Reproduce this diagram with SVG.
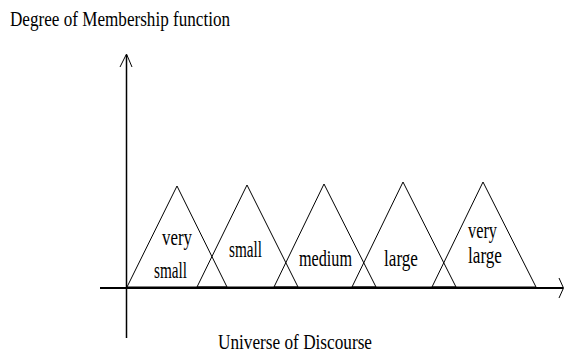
<svg xmlns="http://www.w3.org/2000/svg" width="564" height="355" viewBox="0 0 564 355">
<style>
.t{font-family:"Liberation Serif","DejaVu Serif",serif;fill:#000}
.l{font-size:23px}
.tri{fill:none;stroke:#000;stroke-width:1}
.ax{fill:none;stroke:#000}
</style>
<rect width="564" height="355" fill="#fff"/>
<g id="connectors">
<line class="ax" x1="100" y1="288" x2="563" y2="288" stroke-width="2"/>
<polyline class="ax" points="559,278 563.5,288 559,298" stroke-width="1"/>
<line class="ax" x1="126.5" y1="55" x2="126.5" y2="338" stroke-width="1.5"/>
<polyline class="ax" points="120,67 126.5,54 132,67" stroke-width="1"/>
</g>
<g id="title"><text class="t" x="10" y="26" font-size="21" textLength="220" lengthAdjust="spacingAndGlyphs">Degree of Membership function</text></g>
<g id="xlabel"><text class="t" x="218" y="349" font-size="21" textLength="154" lengthAdjust="spacingAndGlyphs">Universe of Discourse</text></g>
<g id="very-small">
<polygon class="tri" points="127,287 177,186 227,287"/>
<text class="t l" x="162" y="245" textLength="30" lengthAdjust="spacingAndGlyphs">very</text>
<text class="t l" x="154" y="278" textLength="33" lengthAdjust="spacingAndGlyphs">small</text>
</g>
<g id="small">
<polygon class="tri" points="197,287 247,185 298,287"/>
<text class="t l" x="229" y="257" textLength="33" lengthAdjust="spacingAndGlyphs">small</text>
</g>
<g id="medium">
<polygon class="tri" points="274,287 324,184 376,287"/>
<text class="t l" x="299" y="266" textLength="53" lengthAdjust="spacingAndGlyphs">medium</text>
</g>
<g id="large">
<polygon class="tri" points="352,287 403,182 456,287"/>
<text class="t l" x="384" y="266" textLength="34" lengthAdjust="spacingAndGlyphs">large</text>
</g>
<g id="very-large">
<polygon class="tri" points="432,287 483,182 536,287"/>
<text class="t l" x="468" y="238" textLength="29" lengthAdjust="spacingAndGlyphs">very</text>
<text class="t l" x="468" y="263" textLength="34" lengthAdjust="spacingAndGlyphs">large</text>
</g>
</svg>
